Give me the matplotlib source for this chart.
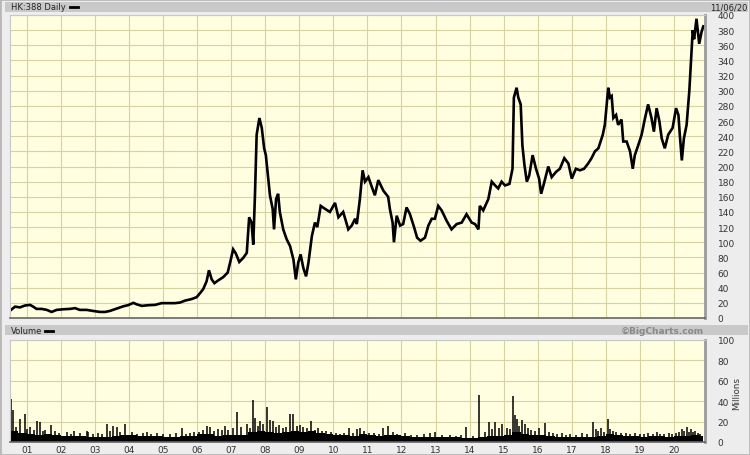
import numpy as np
import matplotlib.pyplot as plt
from matplotlib.patches import Rectangle
from matplotlib.lines import Line2D

# ============================================================
# DATA
# ============================================================
price_t = [2000.51, 2000.54, 2000.66, 2000.80, 2000.95, 2001.10, 2001.19, 2001.29, 2001.44, 2001.59,
           2001.73, 2001.88, 2002.07, 2002.27, 2002.42, 2002.56, 2002.76, 2002.95, 2003.15, 2003.30,
           2003.44, 2003.64, 2003.84, 2003.98, 2004.13, 2004.23, 2004.38, 2004.57, 2004.77, 2004.96,
           2005.16, 2005.35, 2005.50, 2005.65, 2005.84, 2005.99, 2006.09, 2006.18, 2006.28, 2006.35,
           2006.43, 2006.51, 2006.62, 2006.77, 2006.90, 2006.97, 2007.06, 2007.14, 2007.24, 2007.36,
           2007.46, 2007.53, 2007.60, 2007.65, 2007.70, 2007.75, 2007.83, 2007.90, 2007.97, 2008.02,
           2008.09, 2008.14, 2008.22, 2008.26, 2008.32, 2008.38, 2008.43, 2008.53, 2008.63, 2008.73,
           2008.83, 2008.90, 2008.97, 2009.04, 2009.12, 2009.20, 2009.27, 2009.37, 2009.46, 2009.53,
           2009.63, 2009.76, 2009.90, 2010.05, 2010.15, 2010.29, 2010.44, 2010.54, 2010.64, 2010.69,
           2010.78, 2010.86, 2010.93, 2011.03, 2011.13, 2011.22, 2011.32, 2011.47, 2011.61, 2011.66,
           2011.74, 2011.78, 2011.86, 2011.96, 2012.05, 2012.15, 2012.25, 2012.37, 2012.46, 2012.56,
           2012.69, 2012.79, 2012.89, 2012.98, 2013.08, 2013.18, 2013.33, 2013.47, 2013.62, 2013.77,
           2013.91, 2014.06, 2014.16, 2014.26, 2014.30, 2014.40, 2014.55, 2014.65, 2014.75, 2014.84,
           2014.94, 2015.04, 2015.17, 2015.26, 2015.30, 2015.38, 2015.43, 2015.50, 2015.55, 2015.61,
           2015.68, 2015.75, 2015.85, 2015.95, 2016.04, 2016.10, 2016.18, 2016.31, 2016.41, 2016.54,
           2016.65, 2016.78, 2016.90, 2017.00, 2017.12, 2017.24, 2017.36, 2017.48, 2017.58, 2017.68,
           2017.78, 2017.91, 2017.97, 2018.07, 2018.12, 2018.17, 2018.22, 2018.30, 2018.36, 2018.46,
           2018.51, 2018.61, 2018.71, 2018.79, 2018.85, 2018.95, 2019.05, 2019.15, 2019.24, 2019.34,
           2019.41, 2019.49, 2019.57, 2019.64, 2019.73, 2019.83, 2019.96, 2020.06, 2020.13, 2020.17,
           2020.23, 2020.29, 2020.37, 2020.45, 2020.50, 2020.55, 2020.59, 2020.66, 2020.74, 2020.81,
           2020.86]
price_v = [12, 10.7, 15, 14, 16.5, 17.3, 15, 12, 12, 10.7,
           8, 10.7, 11.5, 12, 13, 10.7, 10.7, 9.3, 8, 8,
           9.3, 12.4, 15.5, 17, 20, 18, 16, 16.9, 17.3, 19.6,
           19.6, 19.6, 20.4, 23, 25, 27.5, 32.9, 38, 48.4, 63,
           51, 46, 49.6, 54, 60, 73, 90.7, 85, 74, 79.6,
           86, 133, 126, 97, 162, 242, 264, 251, 224, 215,
           184, 162, 144, 117, 157, 164, 140, 117, 104, 95,
           77, 51, 73, 84, 66, 55, 73, 108, 126, 120,
           148, 144, 140, 152, 133, 140, 117, 122, 131, 124,
           157, 195, 180, 186, 173, 162, 182, 168, 160, 144,
           126, 100, 135, 122, 124, 146, 137, 120, 106, 102,
           106, 122, 131, 131, 148, 142, 128, 117, 124, 126,
           137, 126, 124, 117, 148, 142, 157, 180, 175, 171,
           180, 175, 177, 197, 291, 304, 291, 282, 228, 202,
           180, 188, 215, 197, 184, 164, 177, 200, 186, 193,
           197, 211, 204, 184, 197, 195, 197, 204, 211, 220,
           224, 242, 255, 304, 291, 293, 264, 268, 255, 262,
           233, 233, 220, 197, 215, 228, 242, 264, 282, 264,
           246, 277, 260, 237, 224, 242, 251, 277, 268, 242,
           208, 237, 255, 300, 340, 380, 368, 395, 362, 378,
           385]

# typical daily volume (millions), one value per quarter from mid 2000
vol_base = [11, 9,
            8, 7, 8, 7,   6, 6, 6, 5,   5, 5, 6, 7,   7, 6, 6, 6,   5, 5, 6, 6,
            8, 8, 6, 7,   7, 7, 10, 11, 10, 9, 10, 11, 10, 11, 9, 8, 7, 7, 6, 8,
            7, 6, 7, 7,   6, 5, 5, 5,   5, 5, 5, 4,   4, 5, 6, 6,   7, 10, 8, 7,
            7, 6, 5, 5,   5, 5, 5, 6,   8, 7, 6, 6,   5, 6, 6, 5,   6, 6, 7, 6]

# single-day volume spikes (millions)
spike_t = [2000.53, 2000.61, 2000.70, 2000.80, 2000.95, 2001.02, 2001.10, 2001.20, 2001.29, 2001.39,
           2001.48, 2001.55, 2001.70, 2001.83, 2001.95, 2002.17, 2002.30, 2002.40, 2002.55, 2002.76,
           2002.81, 2002.95, 2003.10, 2003.22, 2003.35, 2003.44, 2003.52, 2003.64, 2003.75, 2003.89,
           2004.10, 2004.25, 2004.40, 2004.52, 2004.65, 2004.82, 2005.00, 2005.20, 2005.38, 2005.55,
           2005.68, 2005.80, 2005.92, 2006.05, 2006.18, 2006.28, 2006.38, 2006.50, 2006.62, 2006.72,
           2006.82, 2006.92, 2007.05, 2007.16, 2007.30, 2007.46, 2007.55, 2007.63, 2007.70, 2007.78,
           2007.85, 2007.95, 2008.06, 2008.15, 2008.22, 2008.32, 2008.40, 2008.53, 2008.62, 2008.73,
           2008.83, 2008.92, 2009.02, 2009.10, 2009.22, 2009.34, 2009.45, 2009.56, 2009.68, 2009.80,
           2009.92, 2010.08, 2010.20, 2010.30, 2010.47, 2010.58, 2010.69, 2010.78, 2010.90, 2011.05,
           2011.20, 2011.35, 2011.47, 2011.61, 2011.75, 2011.88, 2012.10, 2012.28, 2012.45, 2012.65,
           2012.84, 2012.99, 2013.20, 2013.43, 2013.60, 2013.75, 2013.89, 2014.10, 2014.28, 2014.45,
           2014.58, 2014.66, 2014.75, 2014.85, 2014.94, 2015.10, 2015.20, 2015.28, 2015.33, 2015.40,
           2015.46, 2015.53, 2015.62, 2015.70, 2015.80, 2015.92, 2016.05, 2016.21, 2016.33, 2016.45,
           2016.58, 2016.70, 2016.82, 2016.95, 2017.12, 2017.30, 2017.45, 2017.61, 2017.71, 2017.78,
           2017.85, 2017.95, 2018.05, 2018.12, 2018.20, 2018.30, 2018.45, 2018.60, 2018.72, 2018.85,
           2019.00, 2019.12, 2019.25, 2019.38, 2019.49, 2019.60, 2019.70, 2019.85, 2019.95, 2020.05,
           2020.15, 2020.23, 2020.30, 2020.37, 2020.43, 2020.49, 2020.55, 2020.62, 2020.70, 2020.76]
spike_v = [42, 31, 15, 23, 27, 13, 15, 12, 21, 20,
           11, 12, 17, 11, 9, 10, 8, 11, 9, 11,
           10, 8, 9, 8, 18, 11, 16, 15, 10, 18,
           10, 8, 9, 10, 8, 9, 8, 8, 9, 13.5,
           8, 9, 10, 10, 12, 16, 15, 11, 13, 12,
           16, 12, 14, 29, 15, 18, 14, 41, 24, 16,
           21, 18, 34, 22, 21, 15, 17, 14, 15, 27,
           27, 16, 17, 15, 14, 21, 12, 13.5, 11, 11,
           10, 8.6, 8, 9, 13.5, 9, 12.6, 13.5, 11, 9,
           9, 8, 13.5, 15.5, 10, 8, 9, 7, 7, 8,
           9, 10, 7, 7, 6, 7, 14.5, 6, 46.5, 10,
           20, 13, 20, 14, 18, 14, 13, 45, 26, 23,
           16, 22, 18, 14, 12, 11, 13.5, 18.5, 10, 9,
           8, 9, 7, 8, 7, 9, 8, 20, 12.6, 11,
           13.5, 10, 22.8, 12.6, 11, 10, 9, 9, 8, 9,
           8, 8, 9, 8, 10, 8, 8, 9, 8, 9,
           10, 12.6, 11, 14.5, 10, 12.6, 10, 11, 9, 8]

years = list(range(2001, 2021))
year_labels = [f"{y % 100:02d}" for y in years]
price_ticks = list(range(0, 401, 20))
vol_ticks = list(range(0, 101, 20))

# ============================================================
# PLOTTING
# ============================================================
W, H = 750, 456
BG = '#ededed'
PLOT_BG = '#fffee0'
GRID = '#d6d3a0'
BAR = '#c9c9c9'
TXT = '#333333'

x_left, x_right = 2000.51, 2020.91

fig = plt.figure(figsize=(W / 100, H / 100), dpi=100, facecolor=BG)


def px_rect(x0, y0, x1, y1):
    # pixel box (top-left origin) -> figure fraction rect
    return [x0 / W, 1 - y1 / H, (x1 - x0) / W, (y1 - y0) / H]


ax_p = fig.add_axes(px_rect(10, 16, 705, 319))
ax_v = fig.add_axes(px_rect(10, 341, 705, 443))

for ax in (ax_p, ax_v):
    ax.set_facecolor(PLOT_BG)
    ax.set_axisbelow(True)
    ax.set_xlim(x_left, x_right)
    ax.set_xticks(years)
    ax.grid(True, color=GRID, lw=0.8)
    ax.yaxis.tick_right()
    ax.tick_params(axis='y', length=0, pad=9, labelsize=6.5, labelcolor=TXT)
    ax.tick_params(axis='x', length=0, labelsize=6.5, labelcolor=TXT, pad=2)
    ax.spines['right'].set_color('#9a9a9a')
    ax.spines['right'].set_linewidth(2)
    ax.spines['bottom'].set_color('#666666')
    ax.spines['bottom'].set_linewidth(1.2)
    ax.spines['left'].set_color('#c8c8c8')
    ax.spines['top'].set_color('#c8c8c8')

# price panel
ax_p.plot(price_t, price_v, color='black', lw=1.9, solid_joinstyle='miter')
ax_p.set_ylim(0, 400)
ax_p.set_yticks(price_ticks)
ax_p.set_yticklabels([str(v) for v in price_ticks], ha='left')
ax_p.set_xticklabels([])

# volume panel
q_start = 2000.5 + 0.25 * np.arange(len(vol_base))
q_edges = np.append(q_start, 2020.86)
ax_v.stairs(vol_base, q_edges, fill=True, color='black')
ax_v.vlines(spike_t, 0, spike_v, color='black', lw=1.1)
ax_v.set_ylim(0, 100)
ax_v.set_yticks(vol_ticks)
ax_v.set_yticklabels([str(v) for v in vol_ticks], ha='left')
ax_v.set_xticklabels(year_labels)

# header bars and labels
fig.patches.append(Rectangle((5 / W, 1 - 13 / H), 743 / W, 10 / H, transform=fig.transFigure,
                             facecolor=BAR, edgecolor='none'))
fig.patches.append(Rectangle((5 / W, 1 - 336 / H), 743 / W, 10 / H, transform=fig.transFigure,
                             facecolor=BAR, edgecolor='none'))
fig.patches.append(Rectangle((0, 0), 1, 1, transform=fig.transFigure, fill=False,
                             edgecolor='#b8b8b8', lw=2))

fig.text(11 / W, 1 - 8 / H, "HK:388 Daily", fontsize=6.0, color='#222222', va='center', ha='left')
fig.add_artist(Line2D([70 / W, 78 / W], [1 - 8 / H, 1 - 8 / H], transform=fig.transFigure,
                      color='black', lw=2))
fig.text(747 / W, 1 - 8 / H, "11/06/20", fontsize=6.0, color='#222222', va='center', ha='right')

fig.text(11 / W, 1 - 331.5 / H, "Volume", fontsize=6.0, color='#222222', va='center', ha='left')
fig.add_artist(Line2D([45 / W, 53 / W], [1 - 331.5 / H, 1 - 331.5 / H], transform=fig.transFigure,
                      color='black', lw=2))
fig.text(704 / W, 1 - 331.5 / H, "\u00a9BigCharts.com", fontsize=6.5, color='#888888',
         fontweight='bold', va='center', ha='right')

fig.text(737 / W, 1 - 394 / H, "Millions", fontsize=6.3, color=TXT, rotation=90,
         va='center', ha='center')

plt.savefig("out.png", dpi=100, facecolor=BG)
